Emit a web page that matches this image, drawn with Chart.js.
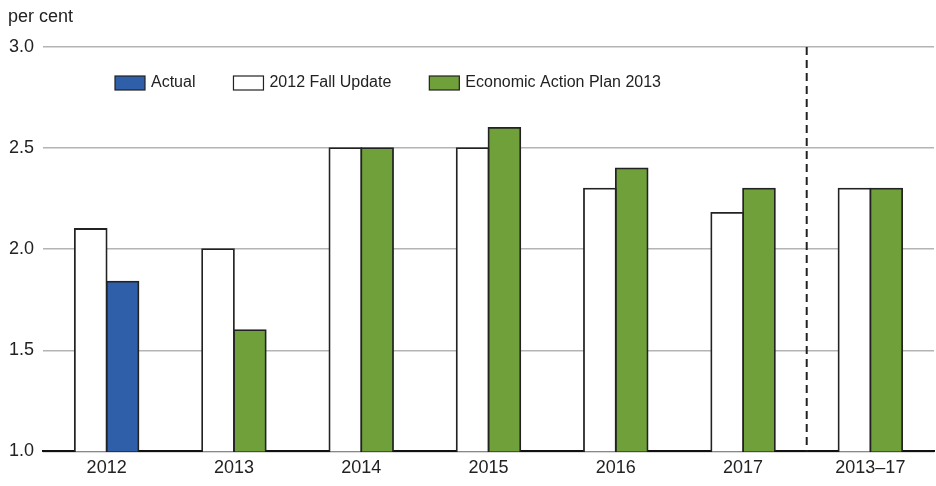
<!DOCTYPE html>
<html>
<head>
<meta charset="utf-8">
<script src="https://cdn.jsdelivr.net/npm/chart.js@4/dist/chart.umd.min.js"></script>
<style>
  html, body { margin: 0; padding: 0; background: #fff; }
  #wrap { width: 936px; height: 486px; }
</style>
</head>
<body>
<div id="wrap"><canvas id="growth_chart"></canvas></div>
<script>
"use strict"

// chart data
var categories = ["2012", "2013", "2014", "2015", "2016", "2017", "2013\u201317"];
var fallUpdate = [2.1, 2.0, 2.5, 2.5, 2.3, 2.18, 2.3];
var actual = [1.84, null, null, null, null, null, null];
var actionPlan = [null, 1.6, 2.5, 2.6, 2.4, 2.3, 2.3];
var yTicks = [1.0, 1.5, 2.0, 2.5, 3.0];

var FONT = "'Liberation Sans', Arial, Helvetica, sans-serif";
var INK = "#222";
var BLUE = "#2e5fa8";
var GREEN = "#70a03a";

// legend drawn inside the plot, in the reference order
var legendItems = [
    { text: "Actual", color: BLUE },
    { text: "2012 Fall Update", color: "#fff" },
    { text: "Economic Action Plan 2013", color: GREEN }
];

var extrasPlugin = {
    id: 'extras',
    afterDraw: function(chart) {
        var ctx = chart.ctx;
        var area = chart.chartArea;
        var x = chart.scales.x;
        ctx.save();

        // unit label
        ctx.fillStyle = INK;
        ctx.font = "18px " + FONT;
        ctx.textBaseline = "middle";
        ctx.textAlign = "left";
        ctx.fillText("per cent", 8, 17);

        // dashed separator before the 5-year average
        var n = categories.length;
        var sepX = (x.getPixelForValue(n - 2) + x.getPixelForValue(n - 1)) / 2;
        ctx.beginPath();
        ctx.setLineDash([8, 5]);
        ctx.lineWidth = 2;
        ctx.strokeStyle = INK;
        ctx.moveTo(sepX, area.top);
        ctx.lineTo(sepX, area.bottom);
        ctx.stroke();
        ctx.setLineDash([]);

        // legend
        ctx.font = "16px " + FONT;
        var lx = area.left + 72;
        var ly = area.top + 36;
        legendItems.forEach(function(item) {
            ctx.fillStyle = item.color;
            ctx.fillRect(lx, ly - 7, 30, 14);
            ctx.lineWidth = 1.2;
            ctx.strokeStyle = INK;
            ctx.strokeRect(lx, ly - 7, 30, 14);
            ctx.fillStyle = INK;
            ctx.fillText(item.text, lx + 36, ly);
            lx += 36 + ctx.measureText(item.text).width + 38;
        });
        ctx.restore();
    }
};

function barSet(label, values, color) {
    return {
        label: label,
        data: values,
        backgroundColor: color,
        borderColor: INK,
        borderWidth: 1.8,
        borderSkipped: 'bottom',
        inflateAmount: 0.9,
        categoryPercentage: 0.5,
        barPercentage: 1.0,
        skipNull: true
    };
}

var chartArea = document.getElementById("growth_chart");
var growthChart = new Chart(chartArea, {
    type: 'bar',
    data: {
        labels: categories,
        datasets: [
            barSet("2012 Fall Update", fallUpdate, "#fff"),
            barSet("Actual", actual, BLUE),
            barSet("Economic Action Plan 2013", actionPlan, GREEN)
        ]
    },
    options: {
        responsive: true,
        maintainAspectRatio: false,
        animation: false,
        layout: { padding: { top: 47, left: 8, right: 2, bottom: 1 } },
        plugins: {
            legend: { display: false },
            tooltip: { enabled: false },
            title: { display: false }
        },
        scales: {
            x: {
                grid: { display: false, drawTicks: false },
                border: { display: true, color: "#111", width: 2 },
                ticks: { color: INK, font: { family: FONT, size: 18 }, padding: 6 }
            },
            y: {
                min: 1.0,
                max: 3.0,
                afterBuildTicks: function(axis) {
                    axis.ticks = yTicks.map(function(v) { return { value: v }; });
                },
                afterFit: function(axis) { axis.width = 35; },
                grid: { color: "#b4b4b4", lineWidth: 1.5, drawTicks: false },
                border: { display: false },
                ticks: {
                    color: INK,
                    font: { family: FONT, size: 18 },
                    padding: 9,
                    callback: function(v) { return Number(v).toFixed(1); }
                }
            }
        }
    },
    plugins: [extrasPlugin]
});
</script>
</body>
</html>
